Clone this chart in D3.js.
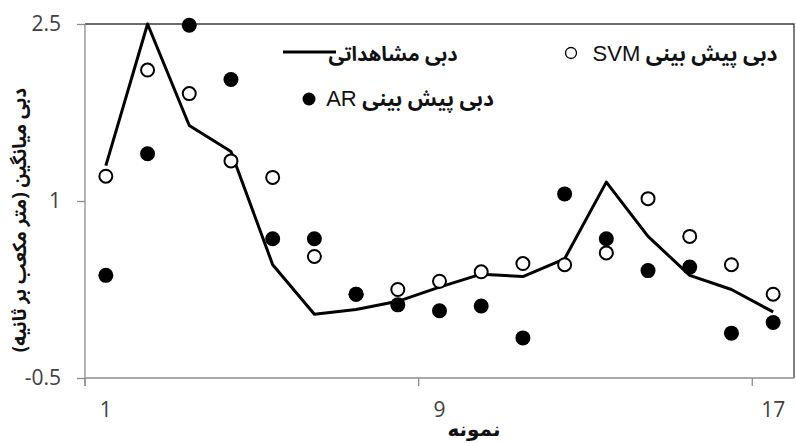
<!DOCTYPE html>
<html>
<head>
<meta charset="utf-8">
<script src="https://cdn.jsdelivr.net/npm/d3@7"></script>
<style>
  html, body { margin: 0; padding: 0; background: #fff; }
  svg { display: block; }
  .fa { font-family: "Noto Sans Arabic", "Noto Naskh Arabic", "DejaVu Sans", sans-serif; direction: rtl; unicode-bidi: embed; }
  .fa-compact { font-family: "DejaVu Sans", sans-serif; direction: rtl; unicode-bidi: embed; }
  .lat { font-family: "Liberation Sans", Arial, sans-serif; font-weight: normal; }
  .tick text { font-family: "Open Sans", "Liberation Sans", sans-serif; }
</style>
</head>
<body>
<svg id="chart" width="796" height="443"></svg>
<script>
// Sample numbers 1..17
const samples = d3.range(1, 18);

// Observed mean discharge (m3/s)
const observed = [1.30, 2.50, 1.64, 1.42, 0.46, 0.04, 0.08, 0.15, 0.27, 0.38, 0.36, 0.51, 1.16, 0.70, 0.37, 0.25, 0.06];

// SVM predicted discharge
const svmPred = [1.21, 2.11, 1.91, 1.34, 1.20, 0.53, 0.21, 0.25, 0.32, 0.40, 0.47, 0.46, 0.56, 1.02, 0.70, 0.46, 0.21];

// AR predicted discharge
const arPred = [0.37, 1.40, 2.49, 2.03, 0.68, 0.68, 0.21, 0.12, 0.07, 0.11, -0.16, 1.06, 0.68, 0.41, 0.44, -0.12, -0.03];

// Axis ticks
const yTicks = [-0.5, 1, 2.5];
const yTickLabels = ["-0.5", "1", "2.5"];
const xTicks = [1, 9, 17];

// Text
const yTitle = "دبی میانگین (متر مکعب بر ثانیه)";
const xTitle = "نمونه";
const legendObserved = "دبی مشاهداتی";
const legendPred = "دبی پیش بینی";
const modelSvm = "SVM";
const modelAr = "AR";

const svg = d3.select("#chart");
const plot = { left: 85, right: 794, top: 24, bottom: 378 };

const x = d3.scaleBand().domain(samples).range([plot.left, plot.right]).padding(0);
const y = d3.scaleLinear().domain([-0.5, 2.5]).range([plot.bottom, plot.top]);
const cx = d => x(d) + x.bandwidth() / 2;

// Plot frame: dark top and right edges
svg.append("path")
  .attr("d", `M${plot.left},${plot.top}H${plot.right}V${plot.bottom}`)
  .attr("fill", "none").attr("stroke", "#3a3a3a").attr("stroke-width", 1.3);

// Left axis
const yAxis = svg.append("g")
  .attr("transform", `translate(${plot.left},0)`)
  .call(d3.axisLeft(y).tickValues(yTicks).tickSize(8).tickPadding(16)
    .tickFormat((d, i) => yTickLabels[i]));
yAxis.select(".domain").attr("stroke", "#8c8c8c").attr("stroke-width", 1.3)
  .attr("d", `M0,${plot.top}V${plot.bottom + 8}`);
yAxis.selectAll(".tick line").attr("stroke", "#8c8c8c").attr("stroke-width", 1.3);
yAxis.selectAll(".tick text").attr("font-size", 21).attr("fill", "#404040");

// Bottom axis: labels at category centres, marks on category boundaries
const xAxis = svg.append("g")
  .attr("transform", `translate(0,${plot.bottom})`)
  .call(d3.axisBottom(x).tickValues(xTicks).tickSize(0).tickPadding(24));
xAxis.select(".domain").attr("stroke", "#8c8c8c").attr("stroke-width", 1.3)
  .attr("d", `M${plot.left},0H${plot.right}`);
xAxis.selectAll(".tick text").attr("font-size", 21).attr("fill", "#404040");
xAxis.selectAll("line.bound")
  .data(xTicks).enter().append("line")
  .attr("class", "bound")
  .attr("x1", d => x(d)).attr("x2", d => x(d))
  .attr("y1", 0).attr("y2", 8)
  .attr("stroke", "#8c8c8c").attr("stroke-width", 1.3);

// Axis titles
svg.append("text").attr("class", "fa")
  .attr("transform", "translate(26,220) rotate(-90)")
  .attr("text-anchor", "middle")
  .attr("font-size", 19).attr("font-weight", "bold").attr("fill", "#111")
  .text(yTitle);
svg.append("text").attr("class", "fa-compact")
  .attr("x", 474).attr("y", 436)
  .attr("text-anchor", "middle")
  .attr("font-size", 20).attr("font-weight", "bold").attr("fill", "#111")
  .text(xTitle);

// Observed line
const line = d3.line().x((d, i) => cx(samples[i])).y(d => y(d));
svg.append("path")
  .datum(observed)
  .attr("d", line)
  .attr("fill", "none").attr("stroke", "#000").attr("stroke-width", 3)
  .attr("stroke-linejoin", "round");

// SVM predictions (open circles)
svg.append("g").selectAll("circle")
  .data(svmPred).enter().append("circle")
  .attr("cx", (d, i) => cx(samples[i])).attr("cy", d => y(d))
  .attr("r", 6.5).attr("fill", "#fff").attr("stroke", "#000").attr("stroke-width", 2);

// AR predictions (filled circles)
svg.append("g").selectAll("circle")
  .data(arPred).enter().append("circle")
  .attr("cx", (d, i) => cx(samples[i])).attr("cy", d => y(d))
  .attr("r", 7.5).attr("fill", "#000");

// Legend
const leg = svg.append("g");
leg.append("line").attr("x1", 283).attr("x2", 336).attr("y1", 52).attr("y2", 52)
  .attr("stroke", "#000").attr("stroke-width", 3);
leg.append("text").attr("class", "fa")
  .attr("x", 393).attr("y", 61).attr("text-anchor", "middle")
  .attr("font-size", 20).attr("font-weight", "bold").attr("fill", "#111")
  .text(legendObserved);

function predLabel(g, px, py, model) {
  const t = g.append("text").attr("class", "fa")
    .attr("x", px).attr("y", py).attr("text-anchor", "middle")
    .attr("font-size", 21).attr("font-weight", "bold").attr("fill", "#111");
  t.append("tspan").text(legendPred + "  ");
  t.append("tspan").attr("class", "lat").attr("font-size", 22).text(model);
}

leg.append("circle").attr("cx", 309).attr("cy", 99).attr("r", 6.5).attr("fill", "#000");
predLabel(leg, 410, 106, modelAr);

leg.append("circle").attr("cx", 571).attr("cy", 53).attr("r", 5.5)
  .attr("fill", "#fff").attr("stroke", "#000").attr("stroke-width", 1.3);
predLabel(leg, 685, 61, modelSvm);
</script>
</body>
</html>
